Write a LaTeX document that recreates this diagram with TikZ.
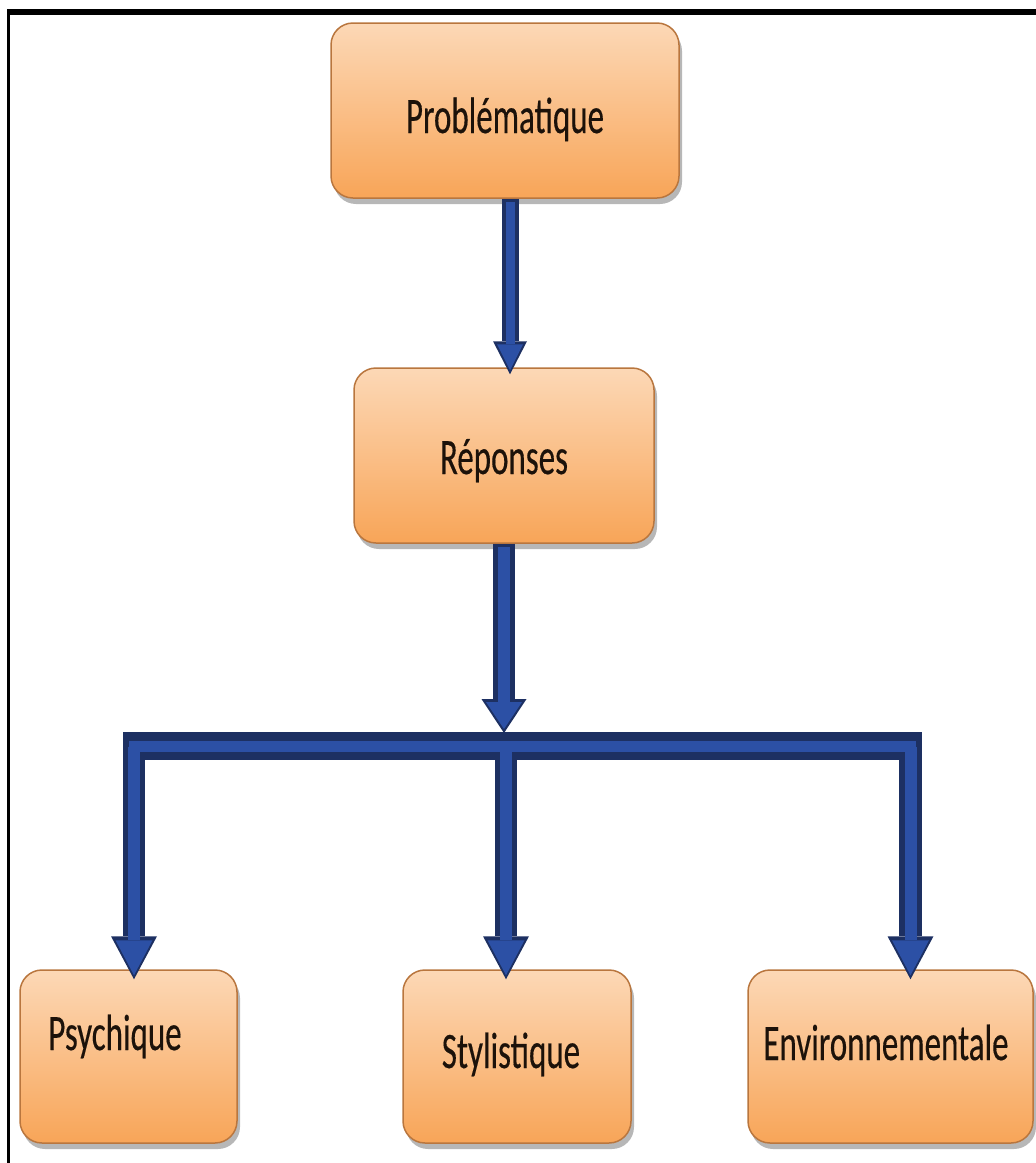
\documentclass[tikz,border=0pt]{standalone}
\usepackage{fontspec}
\usepackage{graphicx}
\setmainfont{Carlito}
\newfontfamily\lblfont[FakeBold=0.4]{Carlito}
\usetikzlibrary{arrows.meta,shadows,calc}
\definecolor{adark}{RGB}{29,48,98}
\definecolor{alight}{RGB}{44,80,165}
\definecolor{boxedge}{RGB}{185,118,62}
\definecolor{boxtop}{RGB}{252,216,182}
\definecolor{boxmid}{RGB}{250,194,142}
\definecolor{boxbot}{RGB}{248,165,88}
\definecolor{txtcol}{RGB}{28,18,10}
\tikzset{
  boxnode/.style={draw=boxedge, line width=1.5pt, rounded corners=22pt,
    top color=boxtop, middle color=boxmid, bottom color=boxbot,
    drop shadow={shadow xshift=3pt, shadow yshift=-6pt, opacity=.4, fill=black!70},
    inner sep=0pt},
  lbl/.style={anchor=base, inner sep=0pt, text=txtcol, font=\lblfont\fontsize{33}{40}\selectfont},
  outarrow/.style n args={3}{draw=adark, line width=#1, -{Triangle[width=#2,length=#3,line width=0pt]}},
  inarrow/.style n args={3}{draw=alight, line width=#1, shorten >=4pt, shorten <=3pt, -{Triangle[width=#2,length=#3,line width=0pt]}},
}
\newcommand{\stretchtxt}[1]{\scalebox{1}[1.55]{#1}}
\begin{document}
\begin{tikzpicture}[x=1pt,y=-1pt]
\useasboundingbox (0,0) rectangle (1036,1163);
% frame
\draw[line width=6pt, black] (7,12) -- (1036,12);
\draw[line width=3pt, black] (8.5,9) -- (8.5,1163);
% boxes
\node[boxnode, minimum width=348pt, minimum height=175pt] (prob) at (505,110.5) {};
\node[boxnode, minimum width=300pt, minimum height=175pt] (rep) at (504,455.5) {};
\node[boxnode, minimum width=217pt, minimum height=173pt] (psy) at (128.5,1056.5) {};
\node[boxnode, minimum width=228pt, minimum height=173pt] (sty) at (517,1056.5) {};
\node[boxnode, minimum width=285pt, minimum height=173pt] (env) at (890.5,1056.5) {};
% labels
\node[lbl] (tprob) at (505,133) {\stretchtxt{Problématique}};
\node[lbl] (trep) at (504,474) {\stretchtxt{Réponses}};
\node[lbl] (tpsy) at (115,1050) {\stretchtxt{Psychique}};
\node[lbl] (tsty) at (511,1068) {\stretchtxt{Stylistique}};
\node[lbl] (tenv) at (886,1060) {\stretchtxt{Environnementale}};
% bar coordinates
\coordinate (barL) at (123,746);
\coordinate (barR) at (922,746);
\coordinate (dl) at (134,732);
\coordinate (dm) at (506,732);
\coordinate (dr) at (910.5,732);
\coordinate (bartop) at (504,733);
% outer (dark) layer
\draw[outarrow={17pt}{34pt}{33pt}] ([xshift=5pt]prob.south) -- ([xshift=6pt,yshift=-7pt]rep.north);
\draw[outarrow={22pt}{45pt}{34pt}] (rep.south) -- (bartop);
\draw[draw=adark, line width=28pt] (barL) -- (barR);
\draw[outarrow={22pt}{46pt}{43pt}] (dl) -- ([yshift=-10pt]dl |- psy.north);
\draw[outarrow={22pt}{46pt}{43pt}] (dm) -- ([yshift=-10pt]dm |- sty.north);
\draw[outarrow={23pt}{46pt}{43pt}] (dr) -- ([yshift=-10pt]dr |- env.north);
% inner (light) layer
\draw[inarrow={9pt}{26pt}{26pt}] ([xshift=5pt]prob.south) -- ([xshift=6pt,yshift=-7pt]rep.north);
\draw[inarrow={12pt}{36pt}{27pt}] (rep.south) -- (bartop);
\draw[draw=alight, line width=11pt] ([xshift=6pt]barL) -- ([xshift=-6pt]barR);
\draw[inarrow={12pt}{37pt}{35pt}] ([yshift=-12pt]dl) -- ([yshift=-10pt]dl |- psy.north);
\draw[inarrow={12pt}{37pt}{35pt}] ([yshift=-12pt]dm) -- ([yshift=-10pt]dm |- sty.north);
\draw[inarrow={12pt}{37pt}{35pt}] ([yshift=-12pt]dr) -- ([yshift=-10pt]dr |- env.north);
\end{tikzpicture}
\end{document}
